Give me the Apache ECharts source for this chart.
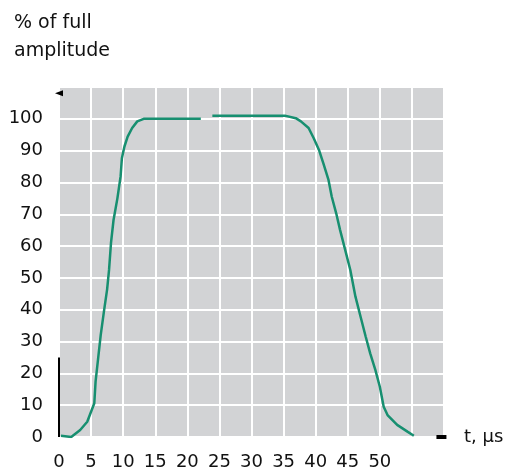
<!DOCTYPE html>
<html>
<head>
<meta charset="utf-8">
<script src="https://cdn.jsdelivr.net/npm/echarts@6/dist/echarts.min.js"></script>
<style>html,body{margin:0;padding:0;background:#fff}#c{width:510px;height:475px}</style>
</head>
<body>
<div id="c"></div>
<script>
// time in microseconds
const tValues = [0.3, 1.9, 3.3, 4.4, 5.1, 5.5, 5.7, 6.1, 6.5, 7.0, 7.5, 7.8, 8.1, 8.5, 9.1, 9.6, 9.8, 10.2, 10.7, 11.4, 12.2, 13.2, 22.1, 23.0,
  23.9, 35.2, 36.9, 37.7, 38.9, 39.7, 40.5, 41.2, 42.0, 42.5, 43.2, 43.8, 44.6, 45.4, 46.2, 47.0, 47.8, 48.5, 49.3, 50.0, 50.6, 51.2, 52.7, 54.3, 55.3];
// % of full amplitude (null = gap in the trace)
const ampValues = [0.4, 0, 2.2, 4.8, 8.5, 10.6, 17.4, 24.7, 32, 39.4, 46.4, 52.5, 60.9, 68.2, 75, 81.9, 87.6, 91.3, 94.4, 97.1, 99.2, 100, 100, null,
  101, 101, 100.2, 99.2, 97.1, 93.9, 90.3, 86, 80.8, 75.6, 70.3, 65.1, 58.8, 52.5, 44.1, 37.8, 31.5, 26.3, 21.1, 15.8, 9.5, 6.9, 3.8, 1.7, 0.4];
const xTickLabels = [0, 5, 10, 15, 20, 25, 30, 35, 40, 45, 50];
const yTickLabels = [0, 10, 20, 30, 40, 50, 60, 70, 80, 90, 100];
const yAxisStub = [[0, 0], [0, 25]];

const font = 'DejaVu Sans';
const chart = echarts.init(document.getElementById('c'));
chart.setOption({
  animation: false,
  title: {
    text: '% of full\namplitude',
    left: 9, top: 4,
    textStyle: { fontFamily: font, fontSize: 19, fontWeight: 'normal', color: '#111', lineHeight: 28 }
  },
  grid: { left: 59, right: 66, top: 87, bottom: 38, show: true, backgroundColor: '#d2d3d5', borderWidth: 0 },
  xAxis: {
    type: 'value', min: 0, max: 60, interval: 5,
    name: 't, μs', nameLocation: 'end', nameGap: 20,
    nameTextStyle: { fontFamily: font, fontSize: 18, color: '#111', verticalAlign: 'middle' },
    axisLine: { show: false }, axisTick: { show: false },
    axisLabel: {
      margin: 16, fontFamily: font, fontSize: 18, color: '#111',
      formatter: v => xTickLabels.includes(v) ? String(v) : ''
    },
    splitLine: { show: true, lineStyle: { color: '#fff', width: 2 } }
  },
  yAxis: {
    type: 'value', min: 0, max: 110, interval: 10,
    axisLine: { show: false }, axisTick: { show: false },
    axisLabel: {
      margin: 16, fontFamily: font, fontSize: 18, color: '#111',
      formatter: v => yTickLabels.includes(v) ? String(v) : ''
    },
    splitLine: { show: true, lineStyle: { color: '#fff', width: 2 } }
  },
  series: [{
    type: 'line',
    data: tValues.map((t, i) => [t, ampValues[i]]),
    connectNulls: false,
    showSymbol: false,
    lineStyle: { color: '#178f70', width: 2.5 },
    markLine: {
      silent: true, symbol: 'none', label: { show: false },
      lineStyle: { color: '#000', width: 2, type: 'solid' },
      data: [[{ coord: yAxisStub[0] }, { coord: yAxisStub[1] }]]
    },
    markPoint: {
      silent: true, label: { show: false },
      data: [
        { coord: [0, 108], symbol: 'triangle', symbolSize: [6, 8], symbolRotate: 90, itemStyle: { color: '#000' } },
        { coord: [59.6, 0], symbol: 'rect', symbolSize: [10, 4], itemStyle: { color: '#000' } }
      ]
    }
  }]
});
</script>
</body>
</html>
